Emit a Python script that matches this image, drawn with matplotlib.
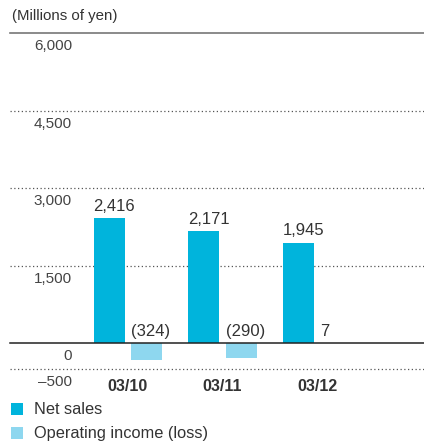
import numpy as np
import matplotlib.pyplot as plt

plt.rcParams['font.family'] = ['Liberation Sans', 'DejaVu Sans']

years = ['03/10', '03/11', '03/12']
net_sales = [2416, 2171, 1945]
op_income = [-324, -290, 7]
net_labels = ['2,416', '2,171', '1,945']
op_labels = ['(324)', '(290)', '7']
yticks = [6000, 4500, 3000, 1500, 0, -500]
ytick_labels = ['6,000', '4,500', '3,000', '1,500', '0', '\u2013500']

W, H = 424, 444
fig = plt.figure(figsize=(W / 100, H / 100), dpi=100)
ax = fig.add_axes([10 / W, 1 - 369 / H, 414 / W, 336 / H])

x = np.arange(len(years))
bw = 0.33
off = 0.2
ax.bar(x - off, net_sales, bw, color='#00B4DC', edgecolor='none', linewidth=0, zorder=3)
ax.bar(x + off, op_income, bw, color='#8ED7EF', edgecolor='none', linewidth=0, zorder=3)

ax.set_xlim((10 - 128) / 94.5, (424 - 128) / 94.5)
ax.set_ylim(-500, 6000)
ax.axis('off')

# gridlines
for v in yticks:
    if v == 6000:
        ax.axhline(v, color='#777777', lw=1.2, zorder=1, clip_on=False)
    elif v == 0:
        ax.axhline(v, color='#222222', lw=1.1, zorder=4, clip_on=False)
    else:
        ax.axhline(v, color='#555555', lw=0.9, ls=(0, (1, 2)), zorder=1, clip_on=False)

# y tick labels (below the lines)
for v, lab in zip(yticks, ytick_labels):
    ax.annotate(lab, ((72 - 128) / 94.5, v), xytext=(0, -4.5), textcoords='offset points',
                ha='right', va='top', fontsize=11, color='#444444')

# value labels
for i in range(len(years)):
    ax.annotate(net_labels[i], (x[i] - off - bw / 2, net_sales[i]),
                xytext=(0, 3), textcoords='offset points',
                ha='left', va='bottom', fontsize=12, color='#333333')
    ax.annotate(op_labels[i], (x[i] + off - bw / 2, max(op_income[i], 0)),
                xytext=(0, 3), textcoords='offset points',
                ha='left', va='bottom', fontsize=12, color='#333333')
    ax.annotate(years[i], (x[i], -500), xytext=(0, -7), textcoords='offset points',
                ha='center', va='top', fontsize=11.5, fontweight='bold', color='#333333')

fig.text(12 / W, 1 - 16 / H, '(Millions of yen)', ha='left', va='center',
         fontsize=10.8, color='#333333')

# legend
legend_items = [('Net sales', '#00B4DC', 409), ('Operating income (loss)', '#8ED7EF', 433)]
for lab, col, yc in legend_items:
    fig.add_artist(plt.Rectangle((11 / W, 1 - (yc + 6) / H), 12 / W, 12 / H,
                                 transform=fig.transFigure, facecolor=col, edgecolor='none'))
    fig.text(34 / W, 1 - yc / H, lab, ha='left', va='center', fontsize=11.8, color='#333333')

fig.savefig('out.png', dpi=100)
